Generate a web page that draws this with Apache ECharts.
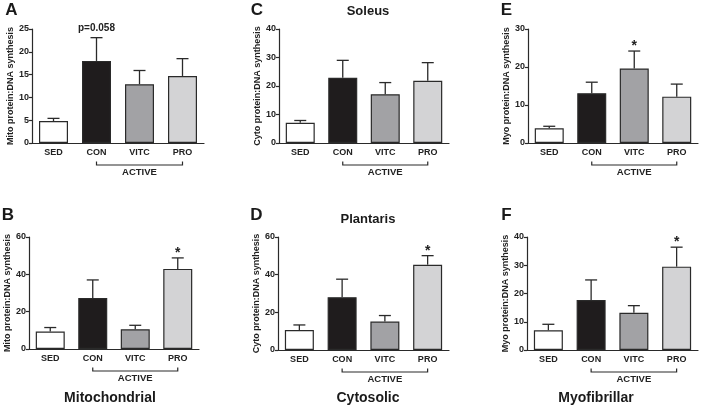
<!DOCTYPE html>
<html>
<head>
<meta charset="utf-8">
<script src="https://cdn.jsdelivr.net/npm/echarts@6/dist/echarts.min.js"></script>
<style>
html,body{margin:0;padding:0;background:#fff;}
#chart{width:701px;height:408px;}
</style>
</head>
<body>
<div id="chart"></div>
<script>
// ---- data ----
const categories = ['SED', 'CON', 'VITC', 'PRO'];

// Soleus (top row)
const soleusMito = [4.8, 18.0, 12.9, 14.7];
const soleusMitoSem = [0.6, 5.1, 3.0, 3.8];
const soleusCyto = [7.1, 22.9, 17.1, 21.8];
const soleusCytoSem = [0.8, 6.1, 4.1, 6.4];
const soleusMyo = [3.9, 13.1, 19.6, 12.2];
const soleusMyoSem = [0.5, 2.9, 4.6, 3.3];

// Plantaris (bottom row)
const plantarisMito = [9.4, 27.3, 10.6, 42.9];
const plantarisMitoSem = [2.1, 9.7, 2.1, 5.9];
const plantarisCyto = [10.6, 28.0, 15.1, 45.3];
const plantarisCytoSem = [2.7, 9.6, 3.2, 4.8];
const plantarisMyo = [7.0, 17.7, 13.2, 29.5];
const plantarisMyoSem = [2.1, 7.1, 2.5, 6.9];

// annotations above error bars
const annotA = ['', 'p=0.058', '', ''];
const annotC = ['', '', '', ''];
const annotE = ['', '', '*', ''];
const annotB = ['', '', '', '*'];
const annotD = ['', '', '', '*'];
const annotF = ['', '', '', '*'];

// y axis ticks
const yMaxA = 25, yStepA = 5;
const yMaxC = 40, yStepC = 10;
const yMaxE = 30, yStepE = 10;
const yMaxB = 60, yStepB = 20;
const yMaxD = 60, yStepD = 20;
const yMaxF = 40, yStepF = 10;

const axisNames = ['Mito protein:DNA synthesis', 'Cyto protein:DNA synthesis', 'Myo protein:DNA synthesis'];
const groupLabel = 'ACTIVE';

// ---- layout / style ----
const barColors = ['#ffffff', '#1f1c1d', '#a2a2a5', '#d3d3d5'];
const ink = '#2a2a2a';
const FONT = 'Liberation Sans, Arial, sans-serif';

const panels = [
  {vals: soleusMito, sem: soleusMitoSem, ann: annotA, max: yMaxA, step: yStepA, name: axisNames[0], grid: {left: 32, top: 29, width: 172, height: 114}},
  {vals: soleusCyto, sem: soleusCytoSem, ann: annotC, max: yMaxC, step: yStepC, name: axisNames[1], grid: {left: 279, top: 29, width: 170, height: 114}},
  {vals: soleusMyo, sem: soleusMyoSem, ann: annotE, max: yMaxE, step: yStepE, name: axisNames[2], grid: {left: 528, top: 29, width: 170, height: 114}},
  {vals: plantarisMito, sem: plantarisMitoSem, ann: annotB, max: yMaxB, step: yStepB, name: axisNames[0], grid: {left: 29, top: 237, width: 170, height: 112}},
  {vals: plantarisCyto, sem: plantarisCytoSem, ann: annotD, max: yMaxD, step: yStepD, name: axisNames[1], grid: {left: 278, top: 237, width: 171, height: 113}},
  {vals: plantarisMyo, sem: plantarisMyoSem, ann: annotF, max: yMaxF, step: yStepF, name: axisNames[2], grid: {left: 527, top: 237, width: 171, height: 113}}
];

const grids = [], xAxes = [], yAxes = [], series = [];

panels.forEach((p, gi) => {
  grids.push(Object.assign({containLabel: false}, p.grid));
  xAxes.push({
    type: 'category', gridIndex: gi, data: categories,
    axisLine: {lineStyle: {color: ink, width: 1.2}},
    axisTick: {alignWithLabel: true, length: 3, lineStyle: {color: ink, width: 1.2}},
    axisLabel: {fontSize: 9, fontWeight: 'bold', color: '#222', margin: 5, fontFamily: FONT}
  });
  yAxes.push({
    type: 'value', gridIndex: gi, min: 0, max: p.max, interval: p.step,
    name: p.name, nameLocation: 'middle', nameGap: 15,
    nameTextStyle: {fontSize: 9, fontWeight: 'bold', color: '#222', fontFamily: FONT},
    axisLine: {show: true, lineStyle: {color: ink, width: 1.2}},
    axisTick: {show: true, length: 3, lineStyle: {color: ink, width: 1.2}},
    axisLabel: {fontSize: 9, fontWeight: 'bold', color: '#222', margin: 3, fontFamily: FONT},
    splitLine: {show: false}
  });
  series.push({
    type: 'bar', xAxisIndex: gi, yAxisIndex: gi, barWidth: 29,
    data: p.vals.map((v, i) => ({value: v, itemStyle: {color: barColors[i]}})),
    itemStyle: {borderColor: ink, borderWidth: 1.2},
    silent: true, animation: false
  });
  const ann = p.ann;
  series.push({
    type: 'custom', xAxisIndex: gi, yAxisIndex: gi,
    data: p.vals.map((v, i) => [i, v, p.sem[i]]),
    encode: {x: 0, y: 1},
    animation: false, silent: true, z: 5,
    renderItem: function (params, api) {
      const x = api.value(0), m = api.value(1), s = api.value(2);
      const p0 = api.coord([x, m]);
      const p1 = api.coord([x, m + s]);
      const cap = 6;
      const st = {stroke: ink, lineWidth: 1.3};
      const children = [
        {type: 'line', shape: {x1: p0[0], y1: p0[1], x2: p1[0], y2: p1[1]}, style: st},
        {type: 'line', shape: {x1: p1[0] - cap, y1: p1[1], x2: p1[0] + cap, y2: p1[1]}, style: st}
      ];
      const t = ann[params.dataIndex];
      if (t) {
        const isStar = t === '*';
        children.push({
          type: 'text',
          style: {
            text: t, x: p1[0], y: isStar ? p1[1] - 5 : p1[1] - 9,
            align: 'center', verticalAlign: 'middle',
            font: (isStar ? 'bold 14px ' : 'bold 10px ') + FONT, fill: '#222'
          }
        });
      }
      return {type: 'group', children: children};
    }
  });
  // bracket under CON..PRO
  series.push({
    type: 'custom', xAxisIndex: gi, yAxisIndex: gi,
    data: [[1, 0, 3]],
    encode: {x: 0, y: 1},
    animation: false, silent: true, z: 5,
    renderItem: function (params, api) {
      const a = api.coord([1, 0]);
      const b = api.coord([3, 0]);
      const y = a[1] + 22;
      const st = {stroke: ink, lineWidth: 1.2, fill: null};
      return {type: 'group', children: [
        {type: 'polyline', shape: {points: [[a[0], y - 3.5], [a[0], y], [b[0], y], [b[0], y - 3.5]]}, style: st},
        {type: 'text', style: {text: groupLabel, x: (a[0] + b[0]) / 2, y: y + 7.5, align: 'center', verticalAlign: 'middle', font: 'bold 9.5px ' + FONT, fill: '#222'}}
      ]};
    }
  });
});

function txt(t, x, y, size) {
  return {type: 'text', x: x, y: y, silent: true,
    style: {text: t, align: 'center', verticalAlign: 'middle', font: 'bold ' + size + 'px ' + FONT, fill: '#1a1a1a'}};
}

const graphics = [
  txt('A', 11.5, 10.5, 17), txt('C', 257, 10.5, 17), txt('E', 506.5, 10.5, 17),
  txt('B', 8, 215.5, 17), txt('D', 256.5, 215.5, 17), txt('F', 506.5, 215.5, 17),
  txt('Soleus', 368, 11.5, 13), txt('Plantaris', 368, 219.5, 13),
  txt('Mitochondrial', 110, 398, 14), txt('Cytosolic', 368, 398, 14), txt('Myofibrillar', 596, 398, 14)
];

const chart = echarts.init(document.getElementById('chart'), null, {renderer: 'canvas'});
chart.setOption({
  backgroundColor: '#ffffff',
  animation: false,
  grid: grids, xAxis: xAxes, yAxis: yAxes, series: series,
  graphic: graphics
});
</script>
</body>
</html>
